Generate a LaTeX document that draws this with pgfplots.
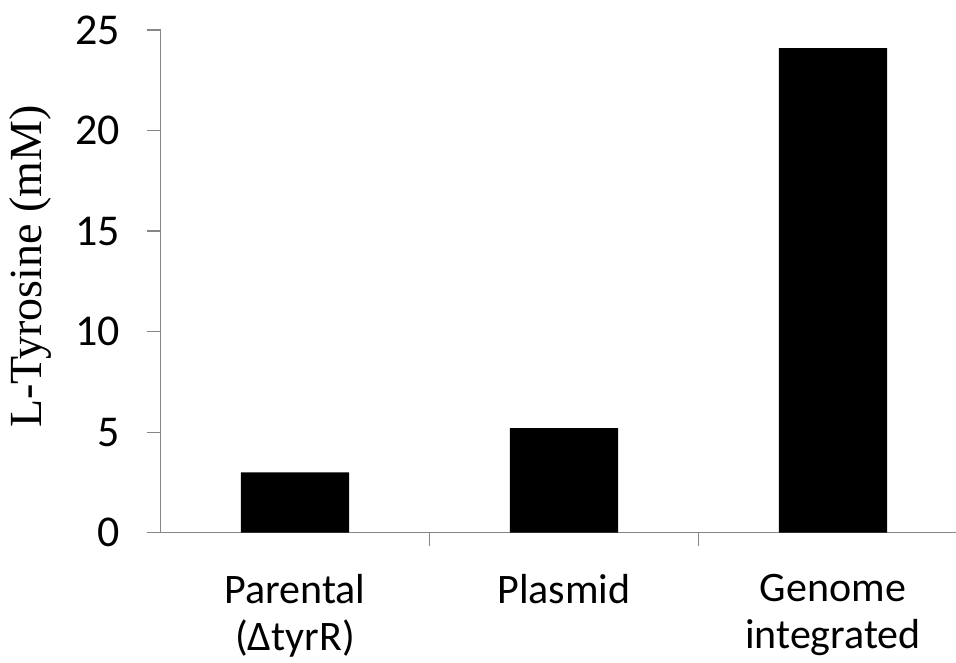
\documentclass[border=0pt]{standalone}
\usepackage{pgfplots}
\pgfplotsset{compat=1.18}
\usepackage{fontspec}
\setmainfont{Carlito}
\newfontfamily\seriffont{Liberation Serif}
\definecolor{axgray}{HTML}{868686}
\begin{document}
\begin{tikzpicture}
\useasboundingbox (-160.7pt,-129.3pt) rectangle (795.3pt,532.7pt);
\begin{axis}[
  at={(0pt,0pt)}, anchor=south west,
  scale only axis, width=795.3pt, height=502.7pt,
  xmin=-0.4993, xmax=2.4572, ymin=0, ymax=25,
  axis lines*=left,
  axis line style={draw=axgray, line width=1.3pt},
  every tick/.style={draw=axgray, line width=1.3pt},
  tick align=outside,
  major tick length=14pt,
  minor tick length=13pt,
  ytick={0,5,10,15,20,25},
  xtick={0,1,2},
  major x tick style={draw=none},
  minor xtick={0.5,1.5},
  xticklabels={{Parental\\(ΔtyrR)},{Plasmid},{Genome\\integrated}},
  xticklabel style={font=\fontsize{42}{47}\selectfont, align=center, anchor=north, inner sep=0pt, yshift=-27pt},
  yticklabel style={font=\fontsize{44}{50}\selectfont, anchor=east, inner sep=0pt, xshift=-26.7pt},
  /pgf/number format/assume math mode=true,
  ylabel={\seriffont L-Tyrosine (mM)},
  ylabel style={font=\fontsize{46}{52}\selectfont, at={(axis description cs:-0.1493,0.5296)}, anchor=base, rotate=0},
  clip=false,
]
\addplot[ybar, fill=black, draw=none, bar width=0.402] coordinates {(0,3.0) (1,5.2) (2,24.1)};
\end{axis}
\end{tikzpicture}
\end{document}
